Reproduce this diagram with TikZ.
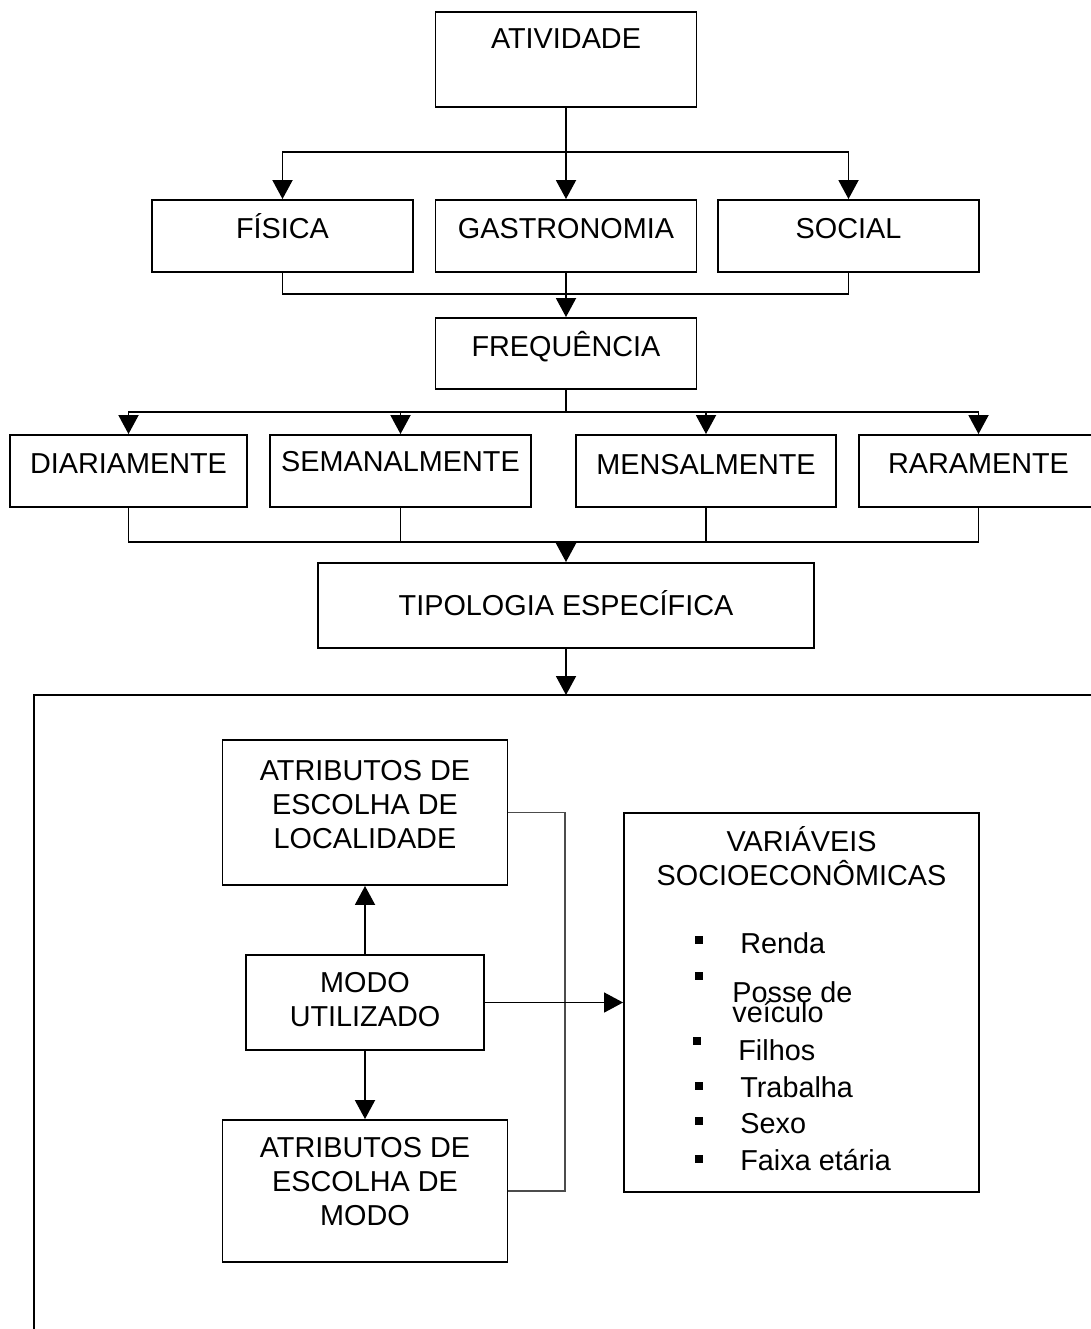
\documentclass[tikz,border=0pt]{standalone}
\usepackage{fontspec}
\setmainfont{Liberation Sans}
\usetikzlibrary{arrows.meta}
\newcommand{\boxfont}{\fontsize{16.4pt}{19.3pt}\selectfont}

\begin{document}
\begin{tikzpicture}[x=0.02cm, y=-0.02cm,
        box/.style={shape=rectangle, draw=black, line width=1.1pt, inner sep=0pt, align=center, font=\boxfont},
        lift/.style={text height=0.4cm, text depth=#1},
        lift/.default=0cm,
        sq/.style={shape=rectangle, fill=black, minimum size=0.16cm, inner sep=0pt},
        entry/.style={anchor=base west, inner sep=0pt, font=\boxfont},
        link/.style={draw=black, line width=1.1pt},
        pointer/.style={link, -{Triangle[length=0.38cm, width=0.4cm]}},
        thinlink/.style={draw=black!70, line width=0.6pt}]
        \useasboundingbox (0,0) rectangle (1090,1329);

        \node[box, lift=0.84cm, minimum width=5.22cm, minimum height=1.9cm] (ativ) at (566,59.5) {ATIVIDADE};
        \node[box, lift=0.32cm, minimum width=5.22cm, minimum height=1.44cm] (fis) at (282.5,236) {FÍSICA};
        \node[box, lift=0.32cm, minimum width=5.22cm, minimum height=1.44cm] (gas) at (566,236) {GASTRONOMIA};
        \node[box, lift=0.32cm, minimum width=5.22cm, minimum height=1.44cm] (soc) at (848.5,236) {SOCIAL};
        \node[box, lift=0.3cm, minimum width=5.22cm, minimum height=1.42cm] (freq) at (566,353.5) {FREQUÊNCIA};
        \node[box, lift=0.32cm, minimum width=4.74cm, minimum height=1.44cm] (dia) at (128.5,471) {DIARIAMENTE};
        \node[box, lift=0.4cm, minimum width=5.22cm, minimum height=1.44cm] (sem) at (400.5,471) {SEMANALMENTE};
        \node[box, lift=0.28cm, minimum width=5.2cm, minimum height=1.44cm] (men) at (706,471) {MENSALMENTE};
        \node[box, lift=0.32cm, minimum width=4.78cm, minimum height=1.44cm] (rar) at (978.5,471) {RARAMENTE};
        \node[box, lift, minimum width=9.94cm, minimum height=1.7cm] (tip) at (566,605.5) {TIPOLOGIA ESPECÍFICA};

        \node[box, lift=0.32cm, text height=1.76cm, minimum width=5.7cm, minimum height=2.9cm] (loc) at (365,812.5) {ATRIBUTOS DE\\ESCOLHA DE\\LOCALIDADE};
        \node[box, lift=0.12cm, text height=1.08cm, minimum width=4.76cm, minimum height=1.9cm] (modo) at (365,1002.5) {MODO\\UTILIZADO};
        \node[box, lift=0.4cm, text height=1.76cm, minimum width=5.7cm, minimum height=2.84cm] (amod) at (365,1191) {ATRIBUTOS DE\\ESCOLHA DE\\MODO};
        \node[box, lift=5.76cm, text height=1.06cm, minimum width=7.1cm, minimum height=7.58cm] (var) at (801.5,1002.5) {VARIÁVEIS\\SOCIOECONÔMICAS};

        \node[sq] (s1) at (699,940) {};
        \node[sq] (s2) at (699,976) {};
        \node[sq] (s3) at (697,1041) {};
        \node[sq] (s4) at (699,1086) {};
        \node[sq] (s5) at (699,1121) {};
        \node[sq] (s6) at (699,1159) {};
        \node[entry] (renda) at (740,953) {Renda};
        \node[entry] (posse) at (732,1002) {Posse de};
        \node[entry] (veic) at (732,1022) {veículo};
        \node[entry] (filhos) at (738,1060) {Filhos};
        \node[entry] (trab) at (740,1097) {Trabalha};
        \node[entry] (sexo) at (740,1133) {Sexo};
        \node[entry] (faixa) at (740,1170) {Faixa etária};

        \coordinate (j1) at (566,152);
        \coordinate (j2) at (566,294);
        \coordinate (j3) at (566,412);
        \coordinate (j4) at (566,542);
        \coordinate (j5) at (565,1002.5);
        \coordinate (ftop) at (566,695);
        \coordinate (fright) at (1095,695);
        \coordinate (fleft) at (34,695);
        \coordinate (fbottom) at (34,1335);

        \draw[pointer] (ativ) -- (gas);
        \draw[pointer] (j1) -| (fis);
        \draw[pointer] (j1) -| (soc);
        \draw[link] (fis) |- (j2) -| (soc);
        \draw[pointer] (gas) -- (freq);
        \draw[link] (freq) -- (j3);
        \draw[pointer] (j3) -| (dia);
        \draw[pointer] (j3) -| (sem);
        \draw[pointer] (j3) -| (men);
        \draw[pointer] (j3) -| (rar);
        \draw[link] (dia) |- (j4) -| (rar);
        \draw[link] (sem) -- (sem |- j4);
        \draw[link] (men) -- (men |- j4);
        \draw[pointer] (j4) -- (tip);
        \draw[pointer] (tip) -- (ftop);
        \draw[link] (fright) -- (fleft) -- (fbottom);

        \draw[pointer] (modo) -- (loc);
        \draw[pointer] (modo) -- (amod);
        \draw[thinlink] (loc) -| (j5) |- (amod);
        \draw[pointer, line width=0.8pt] (modo) -- (var);

    \end{tikzpicture}
\end{document}
